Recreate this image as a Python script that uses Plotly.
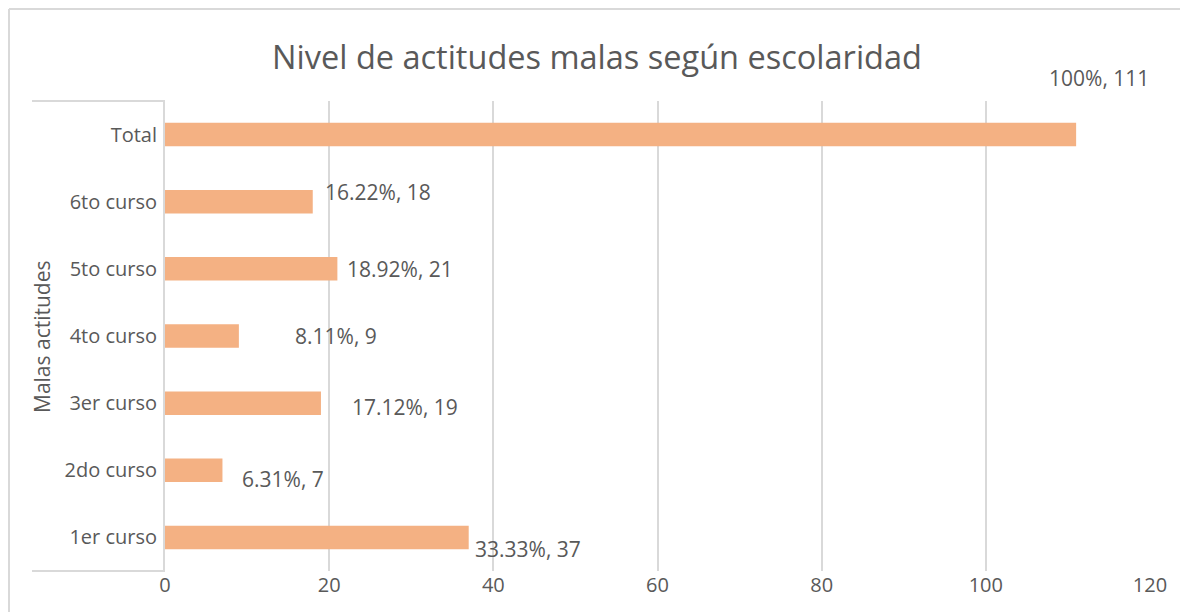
import plotly.graph_objects as go

categories = ["1er curso", "2do curso", "3er curso", "4to curso", "5to curso", "6to curso", "Total"]
values = [37, 7, 19, 9, 21, 18, 111]
percents = ["33.33%", "6.31%", "17.12%", "8.11%", "18.92%", "16.22%", "100%"]
x_ticks = [0, 20, 40, 60, 80, 100, 120]

# label offsets (pixels) from bar end / bar centre, as placed in the original
label_dx = [4, 18, 29, 54, 8, 10, -29]
label_dy = [-12, -9, -4, 0, 0, 10, 57]

FONT = "Open Sans"
TXT = "#595959"
GRID = "#d9d9d9"

# page has an 8px body margin: figure pixel (X,Y) shows at (X+8, Y+8)
OFF = 8
W, H = 1188, 612
L, R, T, B = 165 - OFF, 1150 - OFF, 101 - OFF, 571 - OFF
PW, PH = R - L, B - T


def px(sx):
    return (sx - OFF - L) / PW


def py(sy):
    return (B - (sy - OFF)) / PH


fig = go.Figure()
fig.add_trace(go.Bar(
    x=values, y=categories, orientation="h",
    marker=dict(color="#F4B183", line=dict(width=0)),
    width=0.35, hoverinfo="x+y",
))

for c, v, p, dx, dy in zip(categories, values, percents, label_dx, label_dy):
    fig.add_annotation(x=v, y=c, text=f"{p}, {v}", showarrow=False,
                       xanchor="left", yanchor="middle", xshift=dx, yshift=dy,
                       font=dict(family=FONT, size=21, color=TXT))

# y axis title
fig.add_annotation(x=px(42), y=py(337), xref="paper", yref="paper",
                   text="Malas actitudes", textangle=-90, showarrow=False,
                   xanchor="center", yanchor="middle",
                   font=dict(family=FONT, size=21, color=TXT))

# outer chart border: top and left edges only are in view
fig.add_shape(type="line", xref="paper", yref="paper",
              x0=px(9), x1=px(1300), y0=py(9), y1=py(9),
              line=dict(color=GRID, width=2), layer="below")
fig.add_shape(type="line", xref="paper", yref="paper",
              x0=px(9), x1=px(9), y0=py(9), y1=py(700),
              line=dict(color=GRID, width=2), layer="below")
# category label box lines
for yy in (0, 1):
    fig.add_shape(type="line", xref="paper", yref="paper",
                  x0=px(32), x1=0, y0=yy, y1=yy,
                  line=dict(color=GRID, width=2))

fig.update_layout(
    width=W, height=H,
    margin=dict(l=L, r=W - R, t=T, b=H - B),
    paper_bgcolor="white", plot_bgcolor="white",
    showlegend=False,
    title=dict(text="Nivel de actitudes malas según escolaridad",
               x=(597 - OFF) / W, xref="container", xanchor="center",
               y=1 - (58 - OFF) / H, yref="container", yanchor="middle",
               font=dict(family=FONT, size=32.5, color=TXT)),
    xaxis=dict(range=[0, 120], autorange=False, tickvals=x_ticks, showgrid=True,
               gridcolor=GRID, gridwidth=1.5, zeroline=False, showline=False, ticks="",
               tickfont=dict(family=FONT, size=20, color=TXT)),
    yaxis=dict(categoryorder="array", categoryarray=categories,
               range=[-0.5, len(categories) - 0.5], autorange=False,
               showline=True, linecolor=GRID, linewidth=2, ticks="",
               showgrid=False, ticklabelstandoff=2,
               tickfont=dict(family=FONT, size=20, color=TXT)),
)

fig.write_html("out.html")
